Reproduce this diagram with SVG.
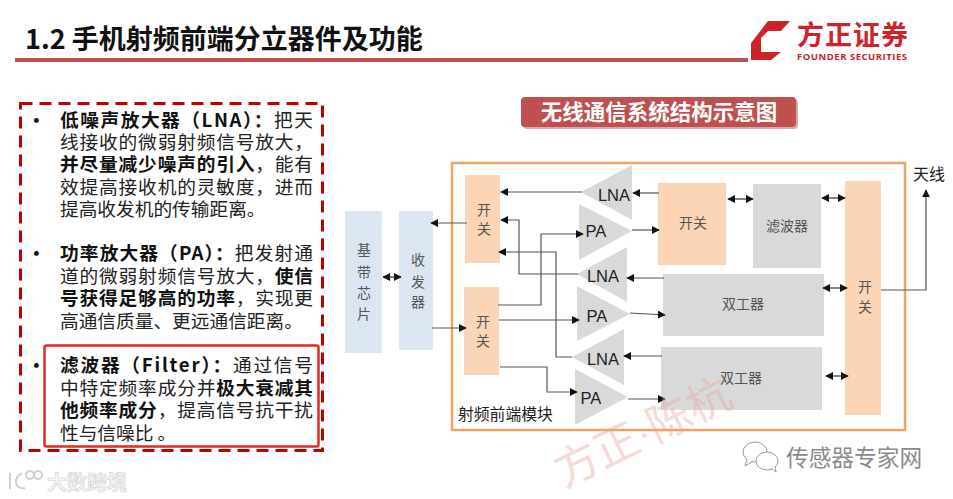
<svg xmlns="http://www.w3.org/2000/svg" width="953" height="499" viewBox="0 0 953 499">
<defs>
<marker id="a" viewBox="0 0 10 10" refX="9" refY="5" markerWidth="8" markerHeight="8" markerUnits="userSpaceOnUse" orient="auto-start-reverse"><path d="M0 0L10 5L0 10Z" fill="#111"/></marker>
</defs>
<style>
text{font-family:"Noto Sans CJK SC","Noto Sans",sans-serif;}
.b{font-size:18.700px;fill:#222;}
.s{font-weight:700;fill:#111;}
.n{font-size:14px;fill:#555;text-anchor:middle;}
.l{font-size:16.500px;fill:#222;text-anchor:middle;font-family:"Liberation Sans","Noto Sans CJK SC",sans-serif;}
.g{fill:#d9d9d9;}.o{fill:#fbd5b5;}.u{fill:#dce6f2;}
.c{fill:none;stroke:#555;stroke-width:1.200;}
.m{marker-end:url(#a);}
.d{marker-start:url(#a);marker-end:url(#a);fill:none;stroke:#333;stroke-width:1.200;}
</style>
<rect width="953" height="499" fill="#fff"/>

<g id="header">
<text x="25" y="49" font-size="27" font-weight="700" fill="#111">1.2 手机射频前端分立器件及功能</text>
<rect x="15" y="58" width="733" height="4" fill="#c0504d"/>
<path d="M751 43L768 21H790L781 31H768L761 38V52H781L771 60H751Z" fill="#cc2229"/>
<text x="797" y="45" font-size="27" font-weight="700" fill="#cc2229" textLength="111">方正证券</text>
<text x="797" y="60" font-size="9.500" font-weight="700" fill="#cc2229" textLength="110" style="font-family:'Open Sans',sans-serif">FOUNDER SECURITIES</text>
</g>

<g id="panel">
<rect x="20.500" y="103.500" width="302" height="347" fill="none" stroke="#c00000" stroke-width="3" stroke-dasharray="12 7"/>
<rect x="44.500" y="345.500" width="274" height="101" rx="2" fill="none" stroke="#e8281e" stroke-width="2.500"/>
<g class="b">
<text x="27" y="127" class="s">•</text>
<text x="60" y="127" textLength="253"><tspan class="s">低噪声放大器（LNA）：</tspan>把天</text>
<text x="60" y="149" textLength="253">线接收的微弱射频信号放大，</text>
<text x="60" y="171" textLength="253"><tspan class="s">并尽量减少噪声的引入</tspan>，能有</text>
<text x="60" y="194" textLength="253">效提高接收机的灵敏度，进而</text>
<text x="60" y="216">提高收发机的传输距离。</text>
<text x="27" y="260" class="s">•</text>
<text x="60" y="260" textLength="253"><tspan class="s">功率放大器（PA）：</tspan>把发射通</text>
<text x="60" y="283" textLength="253">道的微弱射频信号放大，<tspan class="s">使信</tspan></text>
<text x="60" y="305" textLength="253"><tspan class="s">号获得足够高的功率</tspan>，实现更</text>
<text x="60" y="328">高通信质量、更远通信距离。</text>
<text x="27" y="372" class="s">•</text>
<text x="60" y="372" textLength="253"><tspan class="s">滤波器（Filter）：</tspan>通过信号</text>
<text x="60" y="395" textLength="253">中特定频率成分并<tspan class="s">极大衰减其</tspan></text>
<text x="60" y="417" textLength="253"><tspan class="s">他频率成分</tspan>，提高信号抗干扰</text>
<text x="60" y="440">性与信噪比 。</text>
</g>
</g>

<g id="title-pill">
<rect x="523" y="99" width="275" height="30" rx="4" fill="#d9a9a7"/>
<rect x="521" y="97" width="275" height="30" rx="4" fill="#c0504d"/>
<text x="659" y="120" font-size="21.500" font-weight="700" fill="#fff" text-anchor="middle">无线通信系统结构示意图</text>
</g>

<g id="frame"><rect x="452" y="163" width="453" height="267" fill="none" stroke="#f0a35e" stroke-width="2.500"/>
<text x="458" y="420" font-size="15.800" fill="#222">射频前端模块</text></g>

<g id="baseband"><rect class="u" x="345" y="211" width="37" height="142"/>
<text class="n" x="364" y="255">基</text><text class="n" x="364" y="277">带</text><text class="n" x="364" y="298">芯</text><text class="n" x="364" y="319">片</text></g>
<g id="transceiver"><rect class="u" x="399" y="211" width="34" height="139"/>
<text class="n" x="418" y="265">收</text><text class="n" x="418" y="287">发</text><text class="n" x="418" y="307">器</text></g>
<g id="switch-a"><rect class="o" x="465" y="175" width="35" height="88"/>
<text class="n" x="484" y="215">开</text><text class="n" x="484" y="234">关</text></g>
<g id="switch-b"><rect class="o" x="464" y="287" width="35" height="88"/>
<text class="n" x="483" y="327">开</text><text class="n" x="483" y="346">关</text></g>
<g id="lna1"><path class="g" d="M581 192L632 165V220Z"/><text class="l" x="614" y="201">LNA</text></g>
<g id="pa1"><path class="g" d="M579 204L632 231L579 260Z"/><text class="l" x="596" y="237">PA</text></g>
<g id="lna2"><path class="g" d="M577 274L627 247V302Z"/><text class="l" x="603" y="282">LNA</text></g>
<g id="pa2"><path class="g" d="M577 286L630 314L577 341Z"/><text class="l" x="597" y="322">PA</text></g>
<g id="lna3"><path class="g" d="M572 357L624 329V385Z"/><text class="l" x="603" y="365">LNA</text></g>
<g id="pa3"><path class="g" d="M575 369L628 397L575 425Z"/><text class="l" x="591" y="404">PA</text></g>
<g id="switch-c"><rect class="o" x="658" y="183" width="68" height="82"/><text class="n" x="693" y="228">开关</text></g>
<g id="filter"><rect class="g" x="753" y="184" width="68" height="84"/><text class="n" x="787" y="231">滤波器</text></g>
<g id="duplexer1"><rect class="g" x="663" y="274" width="161" height="62"/><text class="n" x="743" y="309">双工器</text></g>
<g id="duplexer2"><rect class="g" x="661" y="347" width="161" height="63"/><text class="n" x="741" y="383">双工器</text></g>
<g id="switch-d"><rect class="o" x="845" y="181" width="36" height="234"/>
<text class="n" x="865" y="292">开</text><text class="n" x="865" y="312">关</text></g>
<g id="antenna"><text x="929" y="180" font-size="16" fill="#222" text-anchor="middle">天线</text></g>

<g id="connectors">
<path class="d" d="M383 277H401"/>
<path class="c m" d="M467 223H431"/>
<path class="c m" d="M432 328H466"/>
<path class="c m" d="M582 192H501"/>
<path class="c m" d="M578 274H519V220H501"/>
<path class="c m" d="M572 357H556V252H499"/>
<path class="c m" d="M498 305H541V234H583"/>
<path class="c m" d="M499 320H579"/>
<path class="c m" d="M500 367H547V392H577"/>
<path class="c m" d="M659 193H633"/>
<path class="c m" d="M632 230H659"/>
<path class="c m" d="M664 278H627"/>
<path class="c m" d="M630 313L665 315"/>
<path class="c m" d="M662 356H624"/>
<path class="c m" d="M628 399H665"/>
<path class="d" d="M728 199H753"/>
<path class="d" d="M822 198H845"/>
<path class="d" d="M823 288H847"/>
<path class="d" d="M826 376H848"/>
<path class="c m" d="M881 290H926V190"/>
</g>

<g id="watermarks">
<text transform="translate(564 488) rotate(-26)" font-size="44" fill="#e8a8a0" opacity=".42">方正<tspan style="font-family:'Liberation Sans',sans-serif">·</tspan>陈杭</text>
<text x="47" y="490" font-size="20" font-weight="700" fill="#f4f4f4" stroke="#d4d4d4" stroke-width=".7">大数跨境</text>
<g fill="none" stroke="#d0d0d0" stroke-width="2">
<path d="M10 473V489M22 473C13 478 14 490 25 488"/><circle cx="30" cy="475" r="4"/><circle cx="38" cy="475" r="4"/>
</g>
<g fill="#fff" stroke="#999" stroke-width="1">
<ellipse cx="755" cy="452" rx="12" ry="10"/><path d="M747 459L745 466L753 461"/>
<ellipse cx="767" cy="461" rx="11" ry="9"/><path d="M771 468L776 472L775 466"/>
</g>
<text x="786" y="466" font-size="22.700" fill="#8a8a8a">传感器专家网</text>
</g>
</svg>
